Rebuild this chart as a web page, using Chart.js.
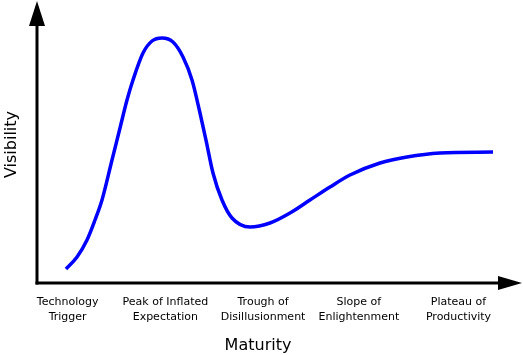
<!DOCTYPE html>
<html>
<head>
<meta charset="utf-8">
<script src="https://cdn.jsdelivr.net/npm/chart.js@4/dist/chart.umd.min.js"></script>
<style>
  html, body { margin: 0; padding: 0; background: #ffffff; }
  #c { display: block; }
</style>
</head>
<body>
<canvas id="c" width="523" height="355"></canvas>
<script>
// Hype cycle curve: maturity (0-100) and visibility (0-100)
const maturity = [6.05, 8.35, 10.44, 12.11, 13.57, 15.66, 17.33, 18.79, 20.04, 22.13, 24.01, 26.10, 28.39, 30.48, 32.36, 34.03, 35.28, 36.74, 38.62, 40.71, 44.47, 48.64, 52.82, 56.99, 61.17, 65.34, 71.61, 77.24, 84.13, 95.20];
const visibility = [5.05, 9.39, 15.52, 22.74, 29.96, 44.40, 55.96, 66.06, 73.29, 83.03, 87.36, 88.45, 87.00, 81.59, 73.29, 61.37, 51.62, 39.71, 29.96, 23.47, 20.22, 21.66, 25.27, 29.96, 34.66, 38.99, 43.32, 45.49, 46.93, 47.29];

// Phase labels along the maturity axis
const phaseLabels = [
  ["Technology", "Trigger"],
  ["Peak of Inflated", "Expectation"],
  ["Trough of", "Disillusionment"],
  ["Slope of", "Enlightenment"],
  ["Plateau of", "Productivity"]
];
const phasePositions = [6.4, 26.8, 47.2, 67.2, 88.0];

const xTitle = "Maturity";
const yTitle = "Visibility";

const points = maturity.map((m, i) => ({ x: m, y: visibility[i] }));

const arrowAxes = {
  id: 'arrowAxes',
  afterDraw(chart) {
    const ctx = chart.ctx;
    const a = chart.chartArea;
    ctx.save();
    ctx.fillStyle = '#000';
    ctx.strokeStyle = '#000';
    ctx.lineWidth = 3;
    ctx.lineCap = 'butt';
    // y axis
    ctx.beginPath();
    ctx.moveTo(a.left, a.bottom + 1.5);
    ctx.lineTo(a.left, a.top + 6);
    ctx.stroke();
    // x axis
    ctx.beginPath();
    ctx.moveTo(a.left - 1.5, a.bottom);
    ctx.lineTo(a.right - 6, a.bottom);
    ctx.stroke();
    // y arrow head
    ctx.beginPath();
    ctx.moveTo(a.left, a.top - 5);
    ctx.lineTo(a.left + 8, a.top + 20);
    ctx.lineTo(a.left - 8, a.top + 20);
    ctx.closePath();
    ctx.fill();
    // x arrow head
    ctx.beginPath();
    ctx.moveTo(a.right + 6, a.bottom);
    ctx.lineTo(a.right - 18, a.bottom - 7);
    ctx.lineTo(a.right - 18, a.bottom + 7);
    ctx.closePath();
    ctx.fill();
    ctx.restore();
  }
};

new Chart(document.getElementById('c'), {
  type: 'line',
  data: {
    datasets: [{
      data: points,
      borderColor: '#0000ff',
      borderWidth: 3.5,
      pointRadius: 0,
      fill: false,
      cubicInterpolationMode: 'monotone',
      borderCapStyle: 'butt',
      clip: false
    }]
  },
  options: {
    responsive: false,
    animation: false,
    layout: { padding: { top: 6, right: 7, left: 0, bottom: 0 } },
    plugins: {
      legend: { display: false },
      tooltip: { enabled: false },
      title: {
        display: true,
        text: xTitle,
        position: 'bottom',
        color: '#000',
        font: { family: 'DejaVu Sans', size: 16, weight: 'normal', lineHeight: 1.2 },
        padding: { top: 0, bottom: 0 }
      }
    },
    scales: {
      x: {
        type: 'linear',
        min: 0,
        max: 100,
        grid: { display: false, drawTicks: false },
        border: { display: false },
        afterBuildTicks: (scale) => {
          scale.ticks = phasePositions.map(v => ({ value: v }));
        },
        afterFit: (scale) => { scale.height = 52.8; },
        ticks: {
          autoSkip: false,
          maxRotation: 0,
          minRotation: 0,
          padding: 12,
          color: '#000',
          font: { family: 'DejaVu Sans', size: 11, lineHeight: 1.36 },
          callback: (value) => {
            const i = phasePositions.indexOf(value);
            return i >= 0 ? phaseLabels[i] : '';
          }
        }
      },
      y: {
        type: 'linear',
        min: 0,
        max: 100,
        grid: { display: false, drawTicks: false },
        border: { display: false },
        ticks: { display: false },
        afterFit: (scale) => { scale.width = 37; },
        title: {
          display: true,
          text: yTitle,
          color: '#000',
          font: { family: 'DejaVu Sans', size: 16, lineHeight: 1.2 },
          padding: { top: 2, bottom: 0 }
        }
      }
    }
  },
  plugins: [arrowAxes]
});
</script>
</body>
</html>
